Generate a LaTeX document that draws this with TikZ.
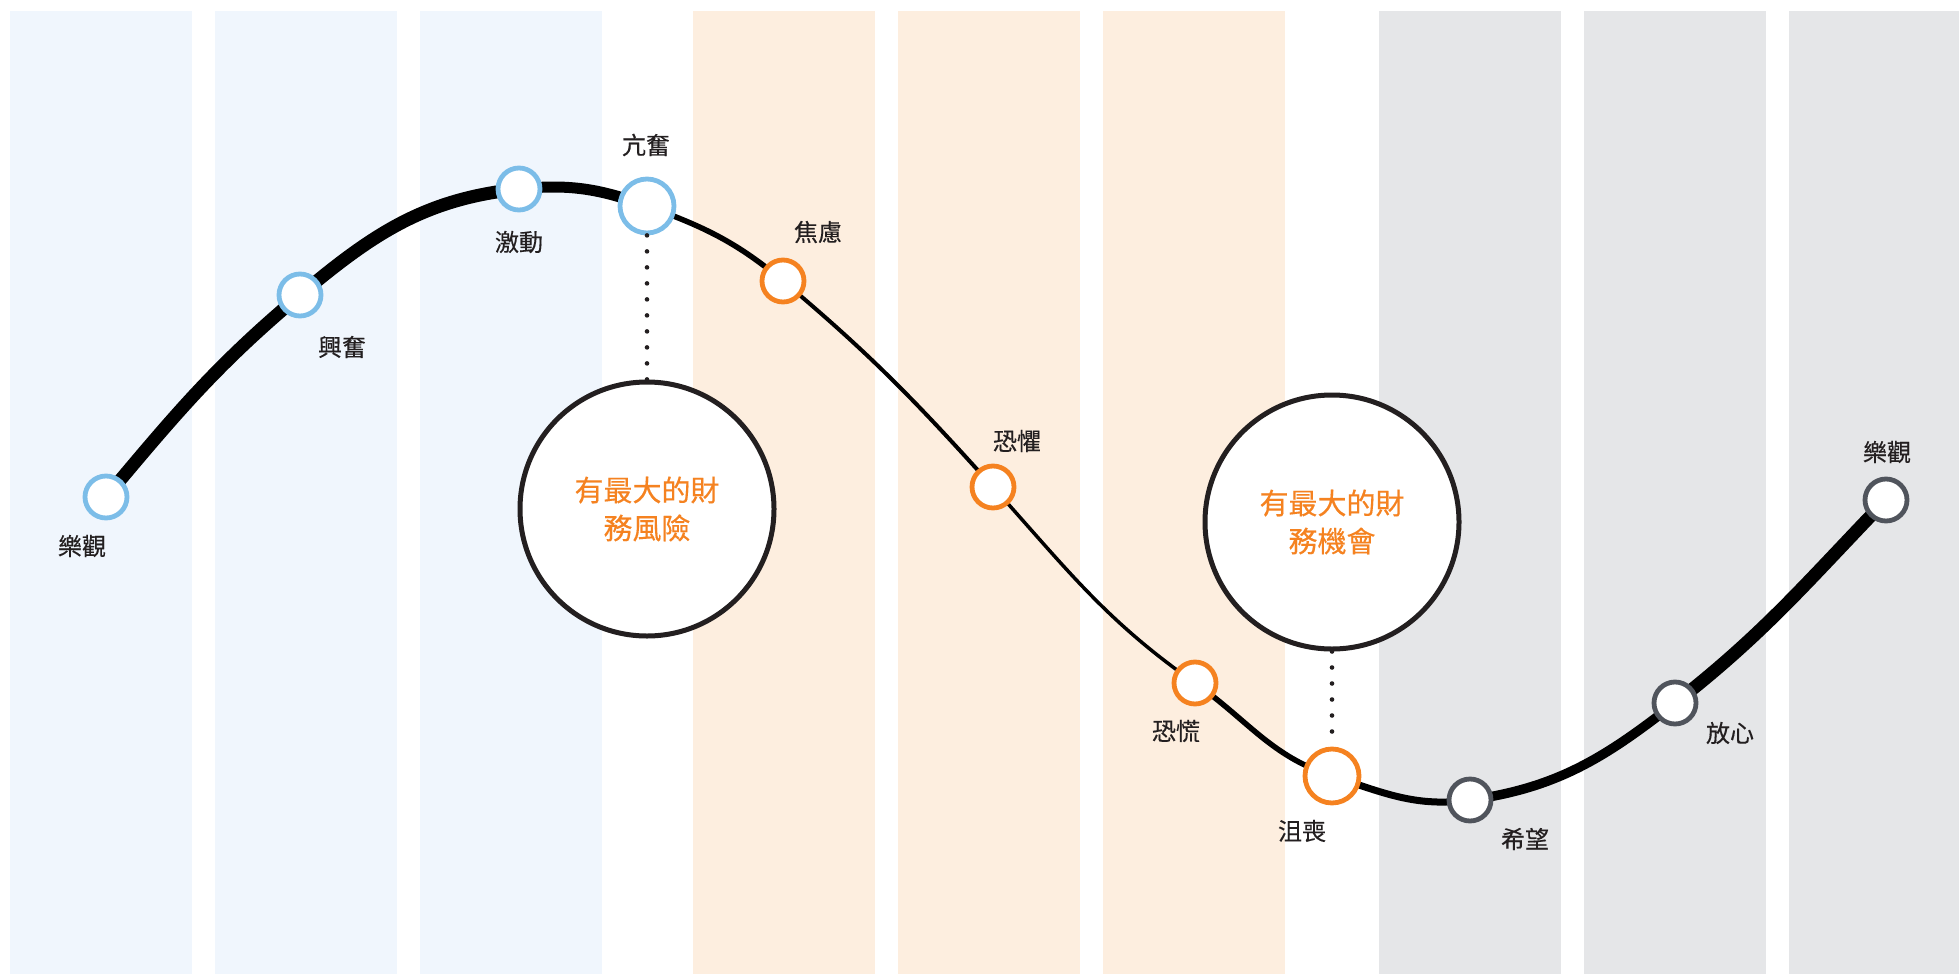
\documentclass[tikz,border=0pt]{standalone}
\usepackage{fontspec}
\setmainfont{Noto Sans CJK TC}
\newfontfamily\moodfont[FakeBold=0.35]{Noto Sans CJK TC}
\usetikzlibrary{backgrounds}
\definecolor{calm}{HTML}{7CBDE8}
\definecolor{alarm}{HTML}{F58220}
\definecolor{settle}{HTML}{50545C}
\definecolor{calmband}{HTML}{F0F6FD}
\definecolor{alarmband}{HTML}{FDEEDF}
\definecolor{settleband}{HTML}{E5E6E8}
\definecolor{ink}{HTML}{231F20}
\begin{document}
\begin{tikzpicture}[x=1pt, y=1pt,
  mood/.style={circle, fill=white, line width=4.8pt, minimum size=42pt, inner sep=0pt},
  peak/.style={mood, minimum size=54pt},
  tag/.style={text=ink, font=\moodfont\fontsize{24}{28}\selectfont, inner sep=0pt},
  bubble/.style={circle, draw=ink, fill=white, line width=5pt, minimum size=254pt,
    inner sep=0pt, align=center, text=alarm, font=\moodfont\fontsize{29}{38}\selectfont},
  dots/.style={draw=ink, line width=4.6pt, line cap=round, dash pattern=on 0pt off 16pt},
  wave/.style={black, line cap=round}]
\useasboundingbox (0,0) rectangle (1959,-974);
\node [mood, draw=calm] (optA) at (106,-497) {};
\node [mood, draw=calm] (excite) at (300,-295) {};
\node [mood, draw=calm] (thrill) at (519,-189) {};
\node [peak, draw=calm] (euph) at (647,-206) {};
\node [mood, draw=alarm] (anx) at (783,-281) {};
\node [mood, draw=alarm] (fear) at (993,-487) {};
\node [mood, draw=alarm] (panic) at (1195,-683) {};
\node [peak, draw=alarm] (desp) at (1332,-776) {};
\node [mood, draw=settle] (hope) at (1470,-800) {};
\node [mood, draw=settle] (relief) at (1675,-703) {};
\node [mood, draw=settle] (optB) at (1886,-500) {};
\node [tag] at (82,-546) {樂觀};
\node [tag] at (342,-347) {興奮};
\node [tag] at (519,-242) {激動};
\node [tag] at (646,-145) {亢奮};
\node [tag] at (818,-232) {焦慮};
\node [tag] at (1017,-441) {恐懼};
\node [tag] at (1176,-731) {恐慌};
\node [tag] at (1302,-831) {沮喪};
\node [tag] at (1525,-839) {希望};
\node [tag] at (1730,-733) {放心};
\node [tag] at (1887,-452) {樂觀};
\node [bubble] (risk) at (647,-509) {有最大的財\\務風險};
\node [bubble] (chance) at (1332,-522) {有最大的財\\務機會};
\draw [dots] (euph) -- (risk);
\draw [dots] (chance) -- (desp);
\begin{scope}[on background layer]
\foreach \x in {10,215,420} \fill [calmband] (\x,-11) rectangle +(182,-963);
\foreach \x in {693,898,1103} \fill [alarmband] (\x,-11) rectangle +(182,-963);
\foreach \x in {1379,1584,1789} \fill [settleband] (\x,-11) rectangle +(182,-963);
\draw [wave, line width=13pt] (optA.center) to[out=50, in=220] (excite.center);
\draw [wave, line width=13pt] (excite.center) to[out=40, in=186] (thrill.center);
\draw [wave, line width=11pt] (thrill.center) to[out=6, in=160] (euph.center);
\draw [wave, line width=5.5pt] (euph.center) to[out=-20, in=140] (anx.center);
\draw [wave, line width=4pt] (anx.center) to[out=-40, in=132] (fear.center);
\draw [wave, line width=3.5pt] (fear.center) to[out=-48, in=145] (panic.center);
\draw [wave, line width=5.5pt] (panic.center) to[out=-35, in=162] (desp.center);
\draw [wave, line width=7pt] (desp.center) to[out=-18, in=188] (hope.center);
\draw [wave, line width=9.5pt] (hope.center) to[out=8, in=218] (relief.center);
\draw [wave, line width=13pt] (relief.center) to[out=38, in=226] (optB.center);
\end{scope}
\end{tikzpicture}
\end{document}
